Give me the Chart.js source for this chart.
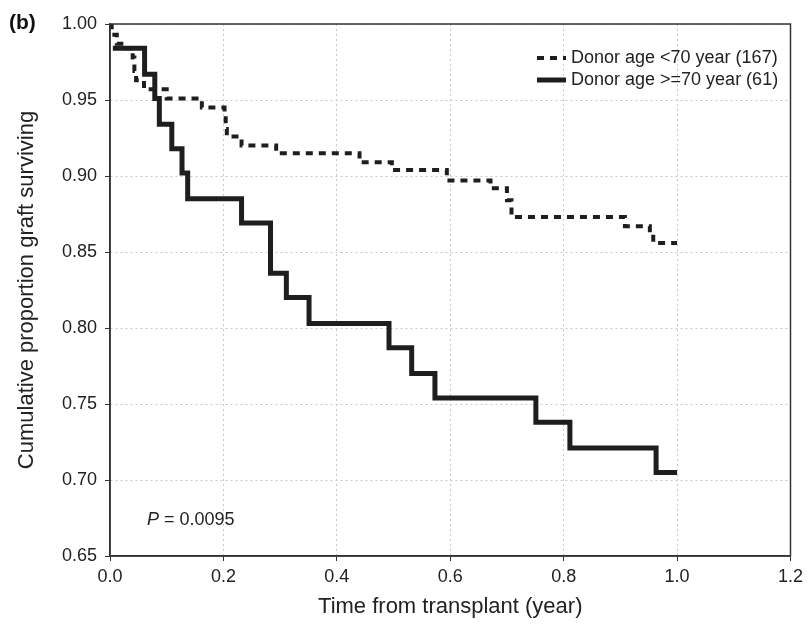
<!DOCTYPE html>
<html>
<head>
<meta charset="utf-8">
<script src="https://cdn.jsdelivr.net/npm/chart.js@4/dist/chart.umd.min.js"></script>
<style>
  html, body { margin: 0; padding: 0; background: #fff; }
  #wrap { width: 808px; height: 624px; }
</style>
</head>
<body>
<div id="wrap"><canvas id="c" width="808" height="624"></canvas></div>
<script>
// Kaplan-Meier step data: time (year) and survival after each drop
const youngTimes  = [0, 0.003, 0.012, 0.02, 0.04, 0.043, 0.046, 0.06, 0.10, 0.162, 0.202, 0.204, 0.206, 0.232, 0.293, 0.44, 0.497, 0.594, 0.671, 0.70, 0.708, 0.908, 0.952, 0.958, 1.0];
const youngValues = [1.0, 0.993, 0.987, 0.984, 0.978, 0.969, 0.963, 0.957, 0.951, 0.945, 0.941, 0.931, 0.926, 0.920, 0.915, 0.909, 0.904, 0.897, 0.892, 0.884, 0.873, 0.867, 0.862, 0.856, 0.856];

const oldTimes  = [0.005, 0.061, 0.079, 0.087, 0.109, 0.127, 0.137, 0.232, 0.283, 0.311, 0.351, 0.492, 0.532, 0.573, 0.751, 0.811, 0.963, 1.0];
const oldValues = [0.984, 0.967, 0.951, 0.934, 0.918, 0.902, 0.885, 0.869, 0.836, 0.820, 0.803, 0.787, 0.770, 0.754, 0.738, 0.721, 0.705, 0.705];

const seriesLabels = ['Donor age <70 year (167)', 'Donor age >=70 year (61)'];
const xTicks = [0.0, 0.2, 0.4, 0.6, 0.8, 1.0, 1.2];
const yTicks = [0.65, 0.70, 0.75, 0.80, 0.85, 0.90, 0.95, 1.00];
const xTitle = 'Time from transplant (year)';
const yTitle = 'Cumulative proportion graft surviving';
const panelLabel = '(b)';
const pValueText = '= 0.0095';

const FONT = "'Liberation Sans', Arial, Helvetica, sans-serif";
const INK = '#1e1e1e';

const toXY = (ts, vs) => ts.map((t, i) => ({ x: t, y: vs[i] }));

const overlay = {
  id: 'overlay',
  afterDatasetsDraw(chart) {
    const ctx = chart.ctx;
    const a = chart.chartArea;
    ctx.save();
    // frame
    ctx.strokeStyle = '#333';
    ctx.lineWidth = 1.5;
    ctx.setLineDash([]);
    ctx.strokeRect(a.left, a.top, a.right - a.left, a.bottom - a.top);

    // legend
    const lx0 = 537, lx1 = 566, tx = 571;
    const rows = [58, 80];
    chart.data.datasets.forEach((ds, i) => {
      ctx.strokeStyle = INK;
      ctx.lineWidth = ds.borderWidth;
      ctx.setLineDash(ds.borderDash || []);
      ctx.lineCap = 'butt';
      ctx.beginPath();
      ctx.moveTo(lx0, rows[i]);
      ctx.lineTo(lx1, rows[i]);
      ctx.stroke();
      ctx.setLineDash([]);
      ctx.fillStyle = '#222';
      ctx.font = '18px ' + FONT;
      ctx.textBaseline = 'middle';
      ctx.textAlign = 'left';
      ctx.fillText(ds.label, tx, rows[i]);
    });

    // P value
    ctx.fillStyle = '#222';
    ctx.textBaseline = 'middle';
    ctx.textAlign = 'left';
    ctx.font = 'italic 18px ' + FONT;
    ctx.fillText('P', 147, 520);
    const pw = ctx.measureText('P').width;
    ctx.font = '18px ' + FONT;
    ctx.fillText(' ' + pValueText, 147 + pw, 520);

    // panel label
    ctx.font = 'bold 21px ' + FONT;
    ctx.fillStyle = '#111';
    ctx.fillText(panelLabel, 9, 23);
    ctx.restore();
  }
};

new Chart(document.getElementById('c'), {
  type: 'line',
  data: {
    datasets: [
      {
        label: seriesLabels[0],
        data: toXY(youngTimes, youngValues),
        stepped: 'before',
        borderColor: INK,
        borderWidth: 4,
        borderDash: [7, 6],
        pointRadius: 0,
        fill: false
      },
      {
        label: seriesLabels[1],
        data: toXY(oldTimes, oldValues),
        stepped: 'before',
        borderColor: INK,
        borderWidth: 5,
        pointRadius: 0,
        fill: false
      }
    ]
  },
  options: {
    responsive: false,
    animation: false,
    layout: { padding: { top: 24, right: 15, left: 0, bottom: 0 } },
    plugins: { legend: { display: false }, tooltip: { enabled: false } },
    scales: {
      x: {
        type: 'linear',
        min: 0, max: 1.2,
        afterBuildTicks(s) { s.ticks = xTicks.map(v => ({ value: v })); },
        afterFit(s) { s.height = 68; },
        ticks: {
          color: '#222',
          font: { family: FONT, size: 18 },
          padding: 5,
          maxRotation: 0,
          callback: v => Number(v).toFixed(1)
        },
        grid: { color: '#c8c8c8', lineWidth: 1, tickLength: 5, tickColor: '#333', drawTicks: true },
        border: { display: true, color: '#333', width: 1.5, dash: [2, 3] },
        title: {
          display: true, text: xTitle, color: '#222',
          font: { family: FONT, size: 22 },
          padding: { top: 0, bottom: 4 }
        }
      },
      y: {
        type: 'linear',
        min: 0.65, max: 1.0,
        afterBuildTicks(s) { s.ticks = yTicks.map(v => ({ value: v })); },
        afterFit(s) { s.width = 110; },
        ticks: {
          color: '#222',
          font: { family: FONT, size: 18 },
          padding: 8,
          callback: v => Number(v).toFixed(2)
        },
        grid: { color: '#c8c8c8', lineWidth: 1, tickLength: 5, tickColor: '#333' },
        border: { display: true, color: '#333', width: 1.5, dash: [2, 3] },
        title: {
          display: true, text: yTitle, color: '#222',
          font: { family: FONT, size: 22 },
          padding: { top: 14, bottom: 0 }
        }
      }
    }
  },
  plugins: [overlay]
});
</script>
</body>
</html>
